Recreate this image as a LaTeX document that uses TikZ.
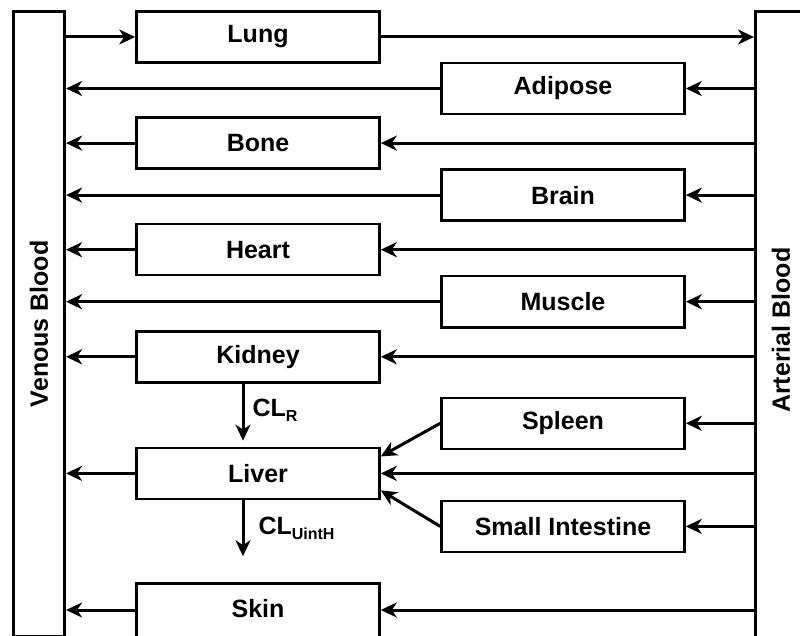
\documentclass[tikz,border=0pt]{standalone}
\usepackage{fontspec}
\setmainfont{Liberation Sans}
\usetikzlibrary{positioning,arrows.meta}

\begin{document}
\begin{tikzpicture}[
  x=1pt, y=-1pt,
  node distance=54pt,
  organ/.style={
    draw,
    line width=2.6pt,
    minimum width=243pt,
    minimum height=51pt,
    inner sep=0pt,
    font=\fontsize{25}{30}\selectfont\bfseries
  },
  blood/.style={
    draw,
    line width=2.6pt,
    minimum width=51.5pt,
    minimum height=625pt,
    inner sep=0pt,
    font=\fontsize{25}{30}\selectfont\bfseries
  },
  arrow/.style={-{Stealth[length=16pt,width=15pt,inset=5pt]}, line width=3pt},
  clabel/.style={font=\fontsize{25}{30}\selectfont\bfseries, inner sep=6pt}
]
\useasboundingbox (0,0) rectangle (800,636);

% --------------------
% Blood pools
% --------------------
\node[blood] (venous) at (39,323.8) {\rotatebox{90}{Venous Blood}};
\node[blood, minimum height=638pt] (arterial) at (781,330.3) {\rotatebox{90}{Arterial Blood}};

% --------------------
% Left column
% --------------------
\node[organ] (lung) at (258,37) {Lung};
\node[organ, below=52.5pt of lung] (bone) {Bone};
\node[organ, below=53pt of bone] (heart) {Heart};
\node[organ, below=53.5pt of heart] (kidney) {Kidney};
\node[organ, below=63pt of kidney] (liver) {Liver};
\node[organ, below=82pt of liver, minimum height=58pt, text depth=9pt] (skin) {Skin};

% --------------------
% Right column
% --------------------
\node[organ] (adipose) at (563,88.5) {Adipose};
\node[organ, below=53pt of adipose] (brain) {Brain};
\node[organ, below=53pt of brain] (muscle) {Muscle};
\node[organ, below=68pt of muscle] (spleen) {Spleen};
\node[organ, below=49.5pt of spleen] (intestine) {Small Intestine};

% --------------------
% Lung circuit
% --------------------
\draw[arrow] (venous.east |- lung) -- (lung);
\draw[arrow] (lung) -- (lung -| arterial.west);

% --------------------
% Systemic organs
% --------------------
\foreach \organ in {adipose,bone,brain,heart,muscle,kidney,liver} {
  \draw[arrow] (\organ -| arterial.west) -- (\organ);
  \draw[arrow] (\organ) -- (\organ -| venous.east);
}
\draw[arrow] ([yshift=2.5pt]skin.east -| arterial.west) -- ([yshift=2.5pt]skin.east);
\draw[arrow] ([yshift=2.5pt]skin.west) -- ([yshift=2.5pt]skin.west -| venous.east);
\draw[arrow] (spleen -| arterial.west) -- (spleen);
\draw[arrow] (intestine -| arterial.west) -- (intestine);

% --------------------
% Portal inflow to liver
% --------------------
\draw[arrow] (spleen.west) -- ([yshift=17pt]liver.east);
\draw[arrow] (intestine.west) -- ([yshift=-17pt]liver.east);

% --------------------
% Clearance
% --------------------
\coordinate[below=57pt of kidney.south, xshift=-15pt] (renal);
\coordinate[below=56pt of liver.south, xshift=-15pt] (hepatic);
\draw[arrow] (kidney.south -| renal) -- (renal)
  node[clabel, midway, right, xshift=2pt, yshift=2pt] {CL\raisebox{-5pt}{\fontsize{16}{18}\selectfont R}};
\draw[arrow] (liver.south -| hepatic) -- (hepatic)
  node[clabel, midway, right, xshift=8pt] {CL\raisebox{-5pt}{\fontsize{16}{18}\selectfont UintH}};

\end{tikzpicture}
\end{document}
